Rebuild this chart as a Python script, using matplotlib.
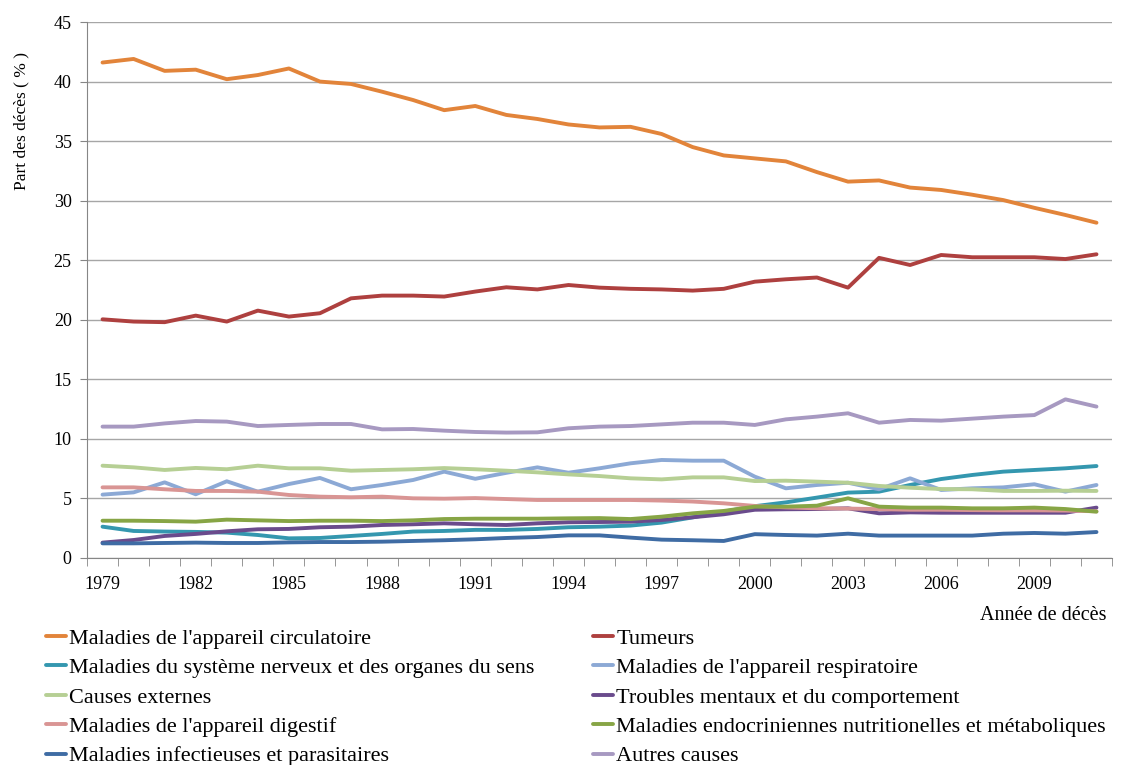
import numpy as np
import matplotlib
matplotlib.use("Agg")
import matplotlib.pyplot as plt

plt.rcParams['font.family'] = ['Liberation Serif', 'DejaVu Serif']

# years of death, 1979-2011
years = list(range(1979, 2012))

# share of deaths (%) per cause
circulatoire = [41.6, 41.9, 40.9, 41.0, 40.2, 40.55, 41.1, 40.0, 39.8, 39.15, 38.45,
                37.6, 37.95, 37.2, 36.86, 36.4, 36.15, 36.2, 35.6, 34.5, 33.8, 33.55,
                33.3, 32.4, 31.6, 31.7, 31.1, 30.9, 30.5, 30.05, 29.4, 28.8, 28.15]
tumeurs = [20.04, 19.85, 19.8, 20.35, 19.85, 20.77, 20.27, 20.55, 21.8, 22.03, 22.03,
           21.95, 22.37, 22.73, 22.55, 22.92, 22.7, 22.6, 22.55, 22.45, 22.6, 23.2,
           23.4, 23.55, 22.7, 25.2, 24.6, 25.44, 25.25, 25.25, 25.25, 25.1, 25.5]
nerveux = [2.63, 2.27, 2.22, 2.19, 2.13, 1.93, 1.65, 1.68, 1.85, 2.02, 2.22,
           2.27, 2.36, 2.36, 2.44, 2.58, 2.63, 2.72, 2.97, 3.41, 3.89, 4.35,
           4.67, 5.07, 5.49, 5.57, 6.13, 6.63, 6.97, 7.25, 7.39, 7.53, 7.72]
respiratoire = [5.32, 5.51, 6.35, 5.35, 6.44, 5.57, 6.21, 6.72, 5.77, 6.13, 6.55,
                7.25, 6.65, 7.15, 7.61, 7.16, 7.53, 7.95, 8.23, 8.17, 8.17, 6.83,
                5.85, 6.13, 6.32, 5.77, 6.69, 5.71, 5.85, 5.93, 6.19, 5.57, 6.13]
externes = [7.75, 7.61, 7.39, 7.56, 7.45, 7.75, 7.53, 7.53, 7.33, 7.39, 7.45,
            7.55, 7.45, 7.33, 7.19, 7.02, 6.88, 6.69, 6.6, 6.77, 6.77, 6.46,
            6.49, 6.41, 6.32, 6.05, 5.9, 5.79, 5.77, 5.63, 5.63, 5.65, 5.63]
mentaux = [1.29, 1.51, 1.85, 2.02, 2.24, 2.41, 2.44, 2.58, 2.63, 2.77, 2.83,
           2.91, 2.83, 2.77, 2.91, 3.0, 3.02, 3.05, 3.19, 3.42, 3.67, 4.05,
           4.09, 4.11, 4.17, 3.75, 3.83, 3.8, 3.8, 3.8, 3.8, 3.8, 4.23]
digestif = [5.93, 5.93, 5.77, 5.63, 5.63, 5.57, 5.29, 5.15, 5.1, 5.15, 5.01,
            4.98, 5.03, 4.95, 4.87, 4.87, 4.87, 4.87, 4.82, 4.74, 4.59, 4.37,
            4.25, 4.17, 4.15, 4.1, 4.05, 4.05, 4.02, 4.0, 4.0, 3.98, 3.92]
endocrin = [3.13, 3.13, 3.1, 3.05, 3.22, 3.16, 3.1, 3.13, 3.13, 3.1, 3.16,
            3.27, 3.3, 3.3, 3.3, 3.33, 3.35, 3.27, 3.47, 3.75, 3.95, 4.31,
            4.31, 4.39, 5.01, 4.31, 4.23, 4.23, 4.17, 4.17, 4.23, 4.11, 3.89]
infectieuses = [1.23, 1.23, 1.26, 1.29, 1.26, 1.26, 1.31, 1.34, 1.34, 1.37, 1.43,
                1.49, 1.57, 1.68, 1.76, 1.9, 1.9, 1.71, 1.54, 1.49, 1.43, 2.0,
                1.93, 1.88, 2.04, 1.88, 1.88, 1.88, 1.88, 2.04, 2.1, 2.04, 2.18]
autres = [11.03, 11.03, 11.3, 11.5, 11.45, 11.08, 11.17, 11.25, 11.25, 10.8, 10.83,
          10.69, 10.58, 10.53, 10.55, 10.89, 11.03, 11.08, 11.22, 11.36, 11.36, 11.17,
          11.64, 11.87, 12.15, 11.36, 11.59, 11.53, 11.7, 11.87, 12.0, 13.32, 12.71]

series = [
    ("Maladies de l'appareil circulatoire", circulatoire, '#E2843A'),
    ("Tumeurs", tumeurs, '#AE403F'),
    ("Maladies du système nerveux et des organes du sens", nerveux, '#3497AF'),
    ("Maladies de l'appareil respiratoire", respiratoire, '#8CA9D5'),
    ("Causes externes", externes, '#B6CF94'),
    ("Troubles mentaux et du comportement", mentaux, '#6A4B8C'),
    ("Maladies de l'appareil digestif", digestif, '#D99594'),
    ("Maladies endocriniennes nutritionelles et métaboliques", endocrin, '#87A545'),
    ("Maladies infectieuses et parasitaires", infectieuses, '#3F6CA4'),
    ("Autres causes", autres, '#A799C1'),
]

fig = plt.figure(figsize=(11.27, 7.65), dpi=100)
ax = fig.add_axes([0.0772, 0.2706, 0.9095, 0.7006])

x = np.arange(len(years))
handles = []
for name, vals, col in series:
    h, = ax.plot(x, vals, color=col, lw=2.8, label=name, solid_capstyle='round')
    handles.append(h)

ax.set_xlim(-0.5, len(years) - 0.5)
ax.set_ylim(0, 45)
ax.set_yticks(np.arange(0, 46, 5))
ax.grid(axis='y', color='#A6A6A6', lw=1)
ax.set_axisbelow(True)

# category axis: tick marks between years, labels every 3 years
ax.set_xticks(np.arange(-0.5, len(years), 1), minor=True)
ax.set_xticks(x[::3])
ax.set_xticklabels([str(y) for y in years[::3]])
ax.tick_params(axis='x', which='major', length=0, pad=13, labelsize=13)
ax.tick_params(axis='x', which='minor', length=6, color='#868686', direction='out')
ax.tick_params(axis='y', length=5, color='#868686', labelsize=13, pad=6)

for s in ['top', 'right']:
    ax.spines[s].set_visible(False)
for s in ['left', 'bottom']:
    ax.spines[s].set_color('#868686')

ax.set_ylabel('Part des décès ( % )', fontsize=12.5)
ax.yaxis.set_label_coords(-0.056, 0.815)
fig.text(0.982, 0.196, 'Année de décès', ha='right', va='center', fontsize=14.5)

left = [handles[i] for i in (0, 2, 4, 6, 8)]
right = [handles[i] for i in (1, 3, 5, 7, 9)]
kw = dict(frameon=False, fontsize=16, handlelength=0.9, handletextpad=0.15,
          labelspacing=0.4, borderaxespad=0, borderpad=0)
fig.legend(left, [h.get_label() for h in left], loc='upper left',
           bbox_to_anchor=(0.0407, 0.179), **kw)
fig.legend(right, [h.get_label() for h in right], loc='upper left',
           bbox_to_anchor=(0.5263, 0.179), **kw)

fig.savefig('out.png', dpi=100)
